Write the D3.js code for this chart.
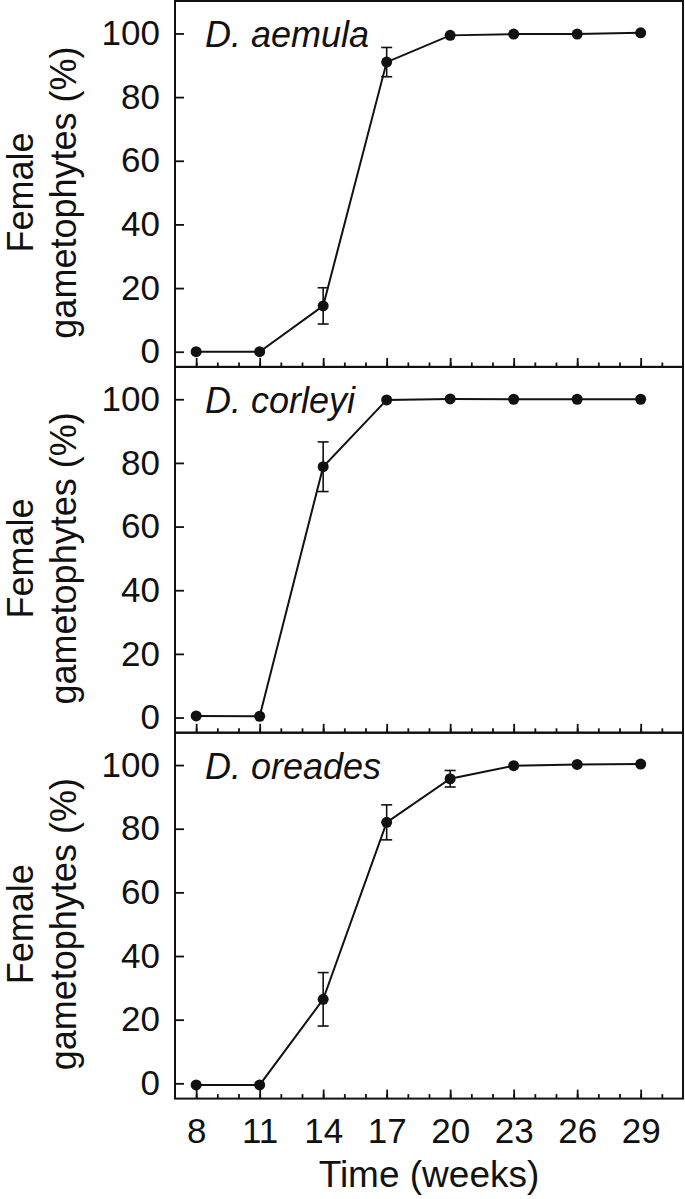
<!DOCTYPE html>
<html>
<head>
<meta charset="utf-8">
<script src="https://cdn.jsdelivr.net/npm/d3@7"></script>
<style>
  body { margin: 0; background: #fff; }
  svg text { font-family: "Liberation Sans", Arial, Helvetica, sans-serif; fill: #111; }
</style>
</head>
<body>
<svg id="chart" width="685" height="1199"></svg>
<script>
// weken en de drie soorten
var weeks = [8, 11, 14, 17, 20, 23, 26, 29];
var species = ["D. aemula", "D. corleyi", "D. oreades"];

// gemiddelden en foutbalken (null = geen foutbalk)
var aemulaMean = [0, 0, 14.4, 91.0, 99.4, 99.8, 99.8, 100.2];
var aemulaErr  = [null, null, 5.7, 4.6, null, null, null, null];
var corleyiMean = [0.5, 0.4, 78.8, 99.8, 100.1, 100, 100, 100];
var corleyiErr  = [null, null, 7.8, null, null, null, null, null];
var oreadesMean = [-0.5, -0.5, 26.4, 82.0, 95.7, 99.8, 100.2, 100.3];
var oreadesErr  = [null, null, 8.4, 5.5, 2.6, null, null, null];

var yTicks = [0, 20, 40, 60, 80, 100];
var xMinor = d3.range(8, 31);

var means = [aemulaMean, corleyiMean, oreadesMean];
var errs = [aemulaErr, corleyiErr, oreadesErr];

var svg = d3.select("#chart"),
    left = 175, right = 683,
    panelTop = 1, panelStep = 365.8, panelHeight = 366;

var x = d3.scaleLinear().domain([7, 31]).range([left, right]);

species.forEach(function(name, p) {
  var top = panelTop + p * panelStep;
  var y = d3.scaleLinear().domain([-4.8, 110.2]).range([top + panelHeight, top]);

  var data = weeks.map(function(w, i) {
    return {week: w, mean: means[p][i], err: errs[p][i]};
  });

  var g = svg.append("g");

  // kleine streepjes op de x-as (elke week)
  g.append("g")
      .attr("transform", "translate(0," + (top + panelHeight) + ")")
      .call(d3.axisBottom(x).tickValues(xMinor).tickSizeInner(-4.5).tickSizeOuter(0).tickFormat(""))
      .call(function(a) { a.select(".domain").remove(); })
      .selectAll("line").attr("stroke", "#111").attr("stroke-width", 1.8);

  // grote streepjes op de x-as, labels alleen onderaan
  var xAxis = g.append("g")
      .attr("transform", "translate(0," + (top + panelHeight) + ")")
      .call(d3.axisBottom(x).tickValues(weeks).tickSizeInner(-9).tickSizeOuter(0).tickPadding(19.5)
        .tickFormat(p === species.length - 1 ? d3.format("d") : ""));
  xAxis.select(".domain").remove();
  xAxis.selectAll("line").attr("stroke", "#111").attr("stroke-width", 1.8);
  xAxis.selectAll("text").attr("font-size", 35).attr("fill", "#111");

  // y-as
  var yAxis = g.append("g")
      .attr("transform", "translate(" + left + ",0)")
      .call(d3.axisLeft(y).tickValues(yTicks).tickSizeInner(-9).tickSizeOuter(0).tickPadding(15));
  yAxis.select(".domain").remove();
  yAxis.selectAll("line").attr("stroke", "#111").attr("stroke-width", 1.8);
  yAxis.selectAll("text").attr("font-size", 35).attr("fill", "#111");

  // kader rond het paneel
  g.append("rect")
      .attr("x", left)
      .attr("y", top)
      .attr("width", right - left)
      .attr("height", panelHeight)
      .attr("fill", "none")
      .attr("stroke", "#111")
      .attr("stroke-width", 2);

  // lijn
  g.append("path")
      .datum(data)
      .attr("fill", "none")
      .attr("stroke", "#111")
      .attr("stroke-width", 2)
      .attr("d", d3.line().x(function(d) { return x(d.week); }).y(function(d) { return y(d.mean); }));

  // foutbalken
  var eb = g.selectAll(".err")
      .data(data.filter(function(d) { return d.err != null; }))
      .enter().append("g")
        .attr("stroke", "#111")
        .attr("stroke-width", 1.6);
  eb.append("line")
      .attr("x1", function(d) { return x(d.week); })
      .attr("x2", function(d) { return x(d.week); })
      .attr("y1", function(d) { return y(d.mean - d.err); })
      .attr("y2", function(d) { return y(d.mean + d.err); });
  eb.append("line")
      .attr("x1", function(d) { return x(d.week) - 5.5; })
      .attr("x2", function(d) { return x(d.week) + 5.5; })
      .attr("y1", function(d) { return y(d.mean + d.err); })
      .attr("y2", function(d) { return y(d.mean + d.err); });
  eb.append("line")
      .attr("x1", function(d) { return x(d.week) - 5.5; })
      .attr("x2", function(d) { return x(d.week) + 5.5; })
      .attr("y1", function(d) { return y(d.mean - d.err); })
      .attr("y2", function(d) { return y(d.mean - d.err); });

  // punten
  g.selectAll("circle")
      .data(data)
      .enter().append("circle")
        .attr("cx", function(d) { return x(d.week); })
        .attr("cy", function(d) { return y(d.mean); })
        .attr("r", 5.5)
        .attr("fill", "#111");

  // naam van de soort
  g.append("text")
      .attr("x", left + 30)
      .attr("y", top + 46)
      .attr("font-size", 36)
      .attr("font-style", "italic")
      .text(name);

  // titel y-as in twee regels
  var yl = g.append("text")
      .attr("transform", "translate(0," + y(50) + ") rotate(-90)")
      .attr("text-anchor", "middle")
      .attr("font-size", 36);
  yl.append("tspan").attr("x", 0).attr("y", 33).text("Female");
  yl.append("tspan").attr("x", 0).attr("y", 76).text("gametophytes (%)");
});

// titel x-as
svg.append("text")
    .attr("x", (left + right) / 2)
    .attr("y", 1187)
    .attr("text-anchor", "middle")
    .attr("font-size", 37)
    .text("Time (weeks)");
</script>
</body>
</html>
